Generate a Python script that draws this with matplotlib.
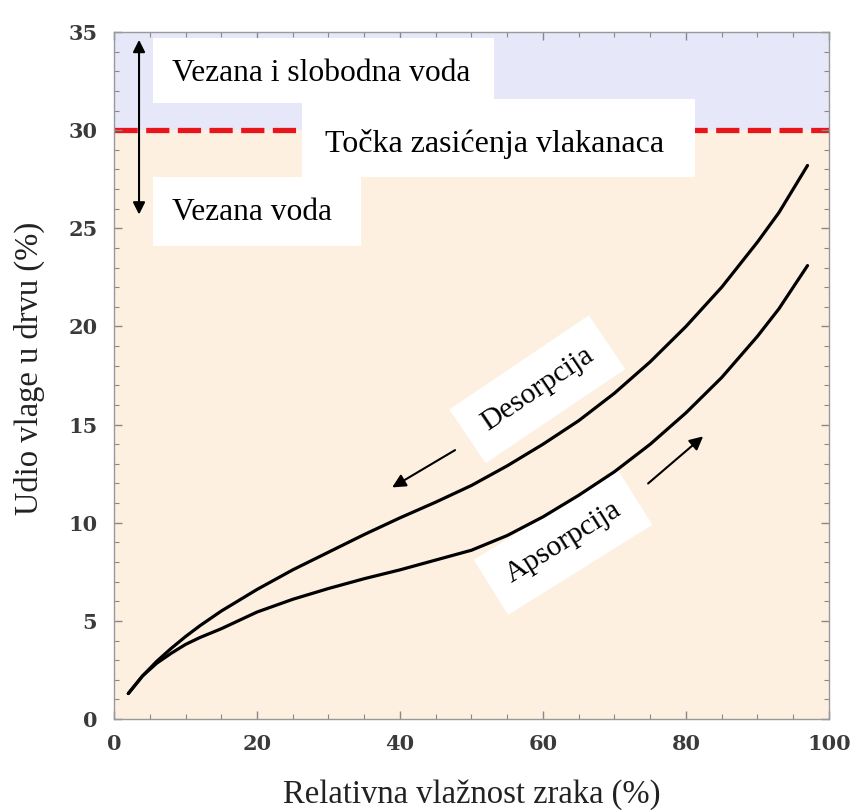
import matplotlib
matplotlib.use("Agg")
import matplotlib.pyplot as plt
from matplotlib.patches import Rectangle
from matplotlib.ticker import MultipleLocator

# Data
rh = [2, 4, 6, 8, 10, 12, 15, 20, 25, 30, 35, 40, 45, 50, 55, 60, 65, 70, 75, 80, 85, 90, 93, 97]
desorption = [1.3, 2.2, 2.95, 3.6, 4.2, 4.75, 5.5, 6.6, 7.6, 8.5, 9.4, 10.25, 11.05, 11.9, 12.9,
              14.0, 15.2, 16.6, 18.2, 20.0, 22.0, 24.3, 25.8, 28.2]
absorption = [1.3, 2.2, 2.85, 3.35, 3.8, 4.15, 4.6, 5.45, 6.1, 6.65, 7.15, 7.6, 8.1, 8.6, 9.35,
              10.3, 11.4, 12.6, 14.0, 15.6, 17.4, 19.5, 20.9, 23.1]
fsp = 30  # fibre saturation point
x_ticks = [0, 20, 40, 60, 80, 100]
y_ticks = [0, 5, 10, 15, 20, 25, 30, 35]

serif = ["Liberation Serif", "DejaVu Serif"]
plt.rcParams["font.family"] = serif

fig = plt.figure(figsize=(8.54, 8.10), dpi=100)
ax = fig.add_axes([0.1335, 0.1123, 0.8372, 0.8482])
ax.set_xlim(0, 100)
ax.set_ylim(0, 35)

ax.axhspan(fsp, 35, color="#E6E8FA", zorder=0, lw=0)
ax.axhspan(0, fsp, color="#FDF0E1", zorder=0, lw=0)

ax.axhline(fsp, color="#E8161B", lw=3.8, dashes=(4.4, 1.6), zorder=1)

# white label boxes
for (x0, y0, w, h) in [(5.5, 31.4, 47.7, 3.3), (5.5, 24.1, 29.0, 3.5), (26.3, 27.6, 55.0, 4.0)]:
    ax.add_patch(Rectangle((x0, y0), w, h, facecolor="white", edgecolor="none", zorder=2))

ax.text(8.1, 32.9, "Vezana i slobodna voda", fontsize=22.7, va="center", ha="left", zorder=3)
ax.text(29.5, 29.3, "Točka zasićenja vlakanaca", fontsize=23, va="center", ha="left", zorder=3)
ax.text(8.1, 25.8, "Vezana voda", fontsize=22.7, va="center", ha="left", zorder=3)

# double arrow
ax.annotate("", xy=(3.5, 34.6), xytext=(3.5, fsp), zorder=4,
            arrowprops=dict(arrowstyle="-|>", color="black", lw=1.5, mutation_scale=18, shrinkA=0, shrinkB=0))
ax.annotate("", xy=(3.5, 25.7), xytext=(3.5, fsp), zorder=4,
            arrowprops=dict(arrowstyle="-|>", color="black", lw=1.5, mutation_scale=18, shrinkA=0, shrinkB=0))

ax.plot(rh, desorption, color="black", lw=2.3, zorder=5, solid_capstyle="round", solid_joinstyle="round")
ax.plot(rh, absorption, color="black", lw=2.3, zorder=5, solid_capstyle="round", solid_joinstyle="round")

ax.text(59.2, 16.8, "Desorpcija", fontsize=21.5, rotation=34, ha="center", va="center", zorder=4,
        rotation_mode="anchor",
        bbox=dict(boxstyle="square,pad=0.65", facecolor="white", edgecolor="none"))
ax.text(62.8, 9.0, "Apsorpcija", fontsize=21.5, rotation=32, ha="center", va="center", zorder=4,
        rotation_mode="anchor",
        bbox=dict(boxstyle="square,pad=0.65", facecolor="white", edgecolor="none"))

ax.annotate("", xy=(38.9, 11.8), xytext=(47.7, 13.7), zorder=6,
            arrowprops=dict(arrowstyle="-|>", color="black", lw=1.5, mutation_scale=20, shrinkA=0, shrinkB=0))
ax.annotate("", xy=(82.4, 14.4), xytext=(74.7, 12.0), zorder=6,
            arrowprops=dict(arrowstyle="-|>", color="black", lw=1.5, mutation_scale=20, shrinkA=0, shrinkB=0))

ax.set_xticks(x_ticks)
ax.set_yticks(y_ticks)
ax.xaxis.set_minor_locator(MultipleLocator(5))
ax.yaxis.set_minor_locator(MultipleLocator(1))
ax.tick_params(which="both", direction="in", top=True, right=True, color="#888888")
ax.tick_params(which="major", length=6, width=1.0)
ax.tick_params(which="minor", length=3.5, width=0.8)
ax.tick_params(axis="x", which="major", pad=11)
ax.tick_params(axis="y", which="major", pad=12)
for lab in ax.get_xticklabels() + ax.get_yticklabels():
    lab.set_family(["DejaVu Serif"])
    lab.set_fontweight("bold")
    lab.set_fontsize(15)
    lab.set_color("#3a3a3a")
for s in ax.spines.values():
    s.set_color("#999999")
    s.set_linewidth(1.0)

ax.set_xlabel("Relativna vlažnost zraka (%)", fontsize=23.5, labelpad=18, color="#222222")
ax.set_ylabel("Udio vlage u drvu (%)", fontsize=23.5, color="#222222")
ax.yaxis.set_label_coords(-0.097, 0.51)

fig.savefig("out.png", dpi=100)
